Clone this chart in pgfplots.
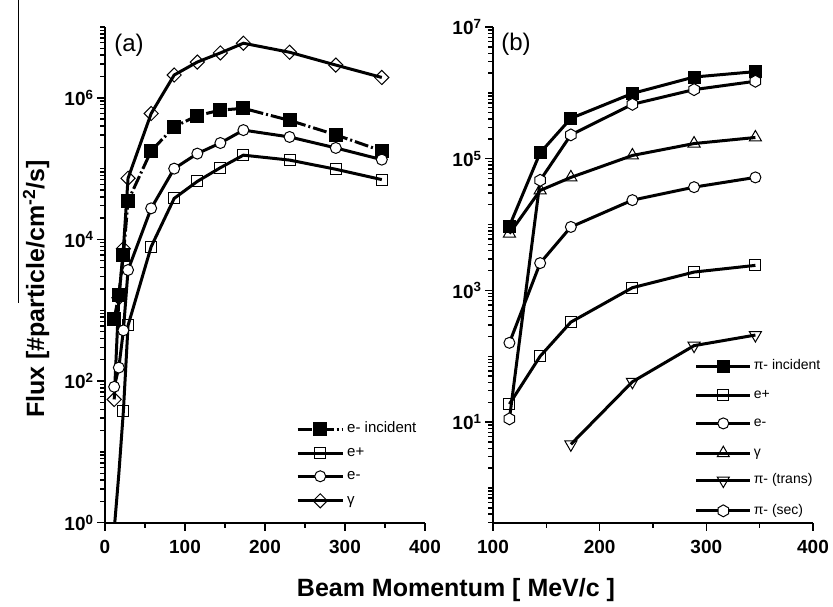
\documentclass[border=0pt]{standalone}
\usepackage{fontspec}
\setmainfont{Liberation Sans}
\usepackage{pgfplots}
\pgfplotsset{compat=1.18}
\usetikzlibrary{plotmarks}
\pgfdeclareplotmark{hexagon}{%
  \pgfpathmoveto{\pgfqpointpolar{90}{\pgfplotmarksize}}%
  \pgfpathlineto{\pgfqpointpolar{150}{\pgfplotmarksize}}%
  \pgfpathlineto{\pgfqpointpolar{210}{\pgfplotmarksize}}%
  \pgfpathlineto{\pgfqpointpolar{270}{\pgfplotmarksize}}%
  \pgfpathlineto{\pgfqpointpolar{330}{\pgfplotmarksize}}%
  \pgfpathlineto{\pgfqpointpolar{30}{\pgfplotmarksize}}%
  \pgfpathclose
  \pgfusepathqfillstroke}
\begin{document}
\begin{tikzpicture}[x=1pt,y=1pt]
\useasboundingbox (0,0) rectangle (833,606);
\draw[line width=1pt] (18,606) -- (18,303);
% ---------- panel (a)
\begin{axis}[
  scale only axis, width=320pt, height=495.7pt,
  axis lines=left, axis line style={line width=2pt,-},
  ymode=log,
  tick align=outside,
  major tick length=8pt, minor tick length=5pt,
  tick style={line width=1.4pt, black},
  ticklabel style={font=\fontsize{19}{19}\selectfont\bfseries},
  xticklabel style={yshift=-6pt},
  legend cell align=left,
  at={(105pt,83.3pt)}, anchor=south west,
  xmin=0, xmax=400, ymin=1, ymax=1e7,
  xtick={0,100,200,300,400}, minor xtick={50,150,250,350},
  xticklabels={0,100,200,300,400},
  ytick={1,100,1e4,1e6},
  yticklabels={10\textsuperscript{0},10\textsuperscript{2},10\textsuperscript{4},10\textsuperscript{6}},
  minor ytick={2,3,4,5,6,7,8,9,10,20,30,40,50,60,70,80,90,200,300,400,500,600,700,800,900,1000,2e3,3e3,4e3,5e3,6e3,7e3,8e3,9e3,2e4,3e4,4e4,5e4,6e4,7e4,8e4,9e4,1e5,2e5,3e5,4e5,5e5,6e5,7e5,8e5,9e5,2e6,3e6,4e6,5e6,6e6,7e6,8e6,9e6,1e7},
  legend style={draw=none, fill=none, at={(axis description cs:0.597,0.202)}, anchor=north west,
    inner sep=0pt, font=\fontsize{15}{15}\selectfont, row sep=12pt,
    nodes={inner sep=0pt, font=\fontsize{15}{15}\selectfont, text height=1.6ex, text depth=0.3ex},
    /tikz/every odd column/.style={column sep=3pt}},
]
\pgfplotsset{legend image code/.code={\draw[#1, mark indices={2}] plot coordinates {(0pt,0pt) (22.5pt,0pt) (45pt,0pt)};}}
\addplot[black, line width=3pt, mark=square*, mark size=6.5pt, mark options={solid, line width=1pt, fill=black}, dash pattern={on 14pt off 3pt on 2pt off 3pt}] coordinates {
(11.5,760) (17.3,1650) (23,6000) (28.8,35000) (57.7,178000) (86.5,390000) (115.4,560000) (144.2,670000) (173,710000) (230.7,480000) (288.5,300000) (346,178000)};
\addlegendentry{e- incident}
\addplot[black, line width=3pt, mark=square, mark size=5.5pt, mark options={solid, line width=1pt, fill=white}, mark indices={2,3,4,5,6,7,8,9,10,11,12}] coordinates {
(11.5,0.8) (17.3,4.9) (23,38) (28.8,610) (57.7,7900) (86.5,38000) (115.4,66000) (144.2,103000) (173,155000) (230.7,132000) (288.5,98000) (346,70000)};
\addlegendentry{e+}
\addplot[black, line width=3pt, mark=*, mark size=5.5pt, mark options={solid, line width=1pt, fill=white}] coordinates {
(11.5,83) (17.3,155) (23,520) (28.8,3700) (57.7,27500) (86.5,100000) (115.4,163000) (144.2,230000) (173,350000) (230.7,280000) (288.5,196000) (346,134000)};
\addlegendentry{e-}
\addplot[black, line width=3pt, mark=square, mark size=5pt, mark options={solid, line width=1pt, fill=white, rotate=45}] coordinates {
(11.5,55) (17.3,1500) (23,7400) (28.8,73000) (57.7,600000) (86.5,2.1e6) (115.4,3.2e6) (144.2,4.3e6) (173,5.9e6) (230.7,4.4e6) (288.5,2.9e6) (346,1.94e6)};
\addlegendentry{γ}
\end{axis}
% ---------- panel (b)
\begin{axis}[
  scale only axis, width=320pt, height=495.7pt,
  axis lines=left, axis line style={line width=2pt,-},
  ymode=log,
  tick align=outside,
  major tick length=8pt, minor tick length=5pt,
  tick style={line width=1.4pt, black},
  ticklabel style={font=\fontsize{19}{19}\selectfont\bfseries},
  xticklabel style={yshift=-6pt},
  legend cell align=left,
  at={(493pt,83.3pt)}, anchor=south west,
  xmin=100, xmax=400, ymin=0.297, ymax=1e7,
  xtick={100,200,300,400}, minor xtick={150,250,350},
  xticklabels={100,200,300,400},
  ytick={10,1e3,1e5,1e7},
  yticklabels={10\textsuperscript{1},10\textsuperscript{3},10\textsuperscript{5},10\textsuperscript{7}},
  minor ytick={0.3,0.4,0.5,0.6,0.7,0.8,0.9,1,2,3,4,5,6,7,8,9,20,30,40,50,60,70,80,90,100,200,300,400,500,600,700,800,900,2e3,3e3,4e3,5e3,6e3,7e3,8e3,9e3,1e4,2e4,3e4,4e4,5e4,6e4,7e4,8e4,9e4,2e5,3e5,4e5,5e5,6e5,7e5,8e5,9e5,1e6,2e6,3e6,4e6,5e6,6e6,7e6,8e6,9e6},
  legend style={draw=none, fill=none, at={(axis description cs:0.630,0.328)}, anchor=north west,
    inner sep=0pt, font=\fontsize{14}{14}\selectfont, row sep=17.3pt,
    nodes={inner sep=0pt, font=\fontsize{14}{14}\selectfont, text height=1.6ex, text depth=0.3ex},
    /tikz/every odd column/.style={column sep=2pt}},
]
\pgfplotsset{legend image code/.code={\draw[#1, mark indices={2}] plot coordinates {(0pt,0pt) (27pt,0pt) (54pt,0pt)};}}
\addplot[black, line width=3pt, mark=square*, mark size=6pt, mark options={solid, line width=1pt, fill=black}] coordinates {
(115.4,9500) (144.2,123000) (173,410000) (230.7,980000) (288.5,1.74e6) (346,2.1e6)};
\addlegendentry{π- incident}
\addplot[black, line width=3pt, mark=square, mark size=5.5pt, mark options={solid, line width=1pt, fill=white}] coordinates {
(115.4,18.8) (144.2,100) (173,330) (230.7,1100) (288.5,1900) (346,2400)};
\addlegendentry{e+}
\addplot[black, line width=3pt, mark=*, mark size=5.5pt, mark options={solid, line width=1pt, fill=white}] coordinates {
(115.4,160) (144.2,2600) (173,9200) (230.7,23500) (288.5,37000) (346,52000)};
\addlegendentry{e-}
\addplot[black, line width=3pt, mark=triangle, mark size=7pt, mark options={solid, line width=1pt, fill=white}] coordinates {
(115.4,7300) (144.2,33000) (173,52000) (230.7,112000) (288.5,170000) (346,210000)};
\addlegendentry{γ}
\addplot[black, line width=3pt, mark=triangle, mark size=7pt, mark options={solid, line width=1pt, fill=white, rotate=180}] coordinates {
(173,4.6) (230.7,41) (288.5,145) (346,210)};
\addlegendentry{π- (trans)}
\addplot[black, line width=3pt, mark=hexagon, mark size=6pt, mark options={solid, line width=1pt, fill=white}] coordinates {
(115.4,11.2) (144.2,47000) (173,230000) (230.7,670000) (288.5,1.12e6) (346,1.5e6)};
\addlegendentry{π- (sec)}
\end{axis}
% labels
\node[font=\fontsize{24}{24}\selectfont] at (129,561) {(a)};
\node[font=\fontsize{24}{24}\selectfont] at (516,562) {(b)};
\node[font=\fontsize{25}{25}\selectfont\bfseries] at (456,16) {Beam Momentum [ MeV/c ]};
\node[font=\fontsize{25}{25}\selectfont\bfseries, rotate=90] at (36,317) {Flux [\#particle/cm\textsuperscript{-2}/s]};
\end{tikzpicture}
\end{document}
